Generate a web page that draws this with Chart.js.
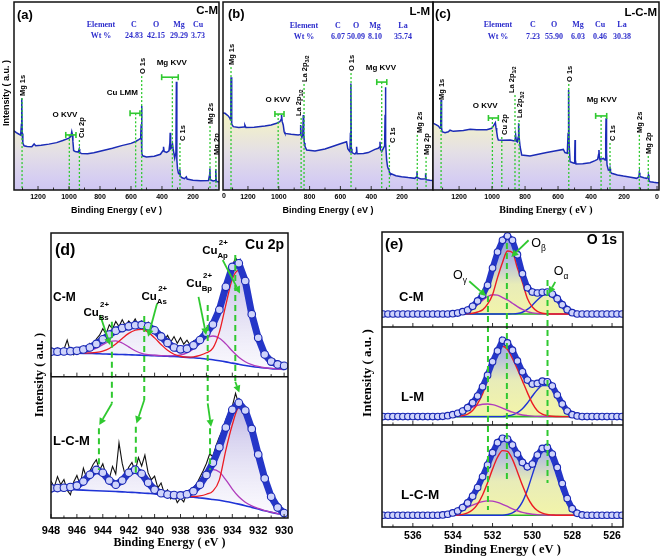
<!DOCTYPE html>
<html>
<head>
<meta charset="utf-8">
<title>XPS spectra</title>
<script src="https://cdn.jsdelivr.net/npm/chart.js@4.4.1/dist/chart.umd.min.js"></script>
<style>
  html, body { margin: 0; padding: 0; background: #fff; }
  #fig { position: relative; width: 661px; height: 558px; overflow: hidden; background: #fff; }
  #fig canvas { position: absolute; left: 0; top: 0; }
</style>
</head>
<body>
<div id="fig">
  <canvas id="chartA" width="661" height="558"></canvas>
  <canvas id="chartB" width="661" height="558"></canvas>
  <canvas id="chartC" width="661" height="558"></canvas>
  <canvas id="chartD" width="661" height="558"></canvas>
  <canvas id="chartE" width="661" height="558"></canvas>
</div>
<script>
// survey spectra: binding energy (eV) and intensity (a.u., 0-100 of panel height)
const aEnergy = [1355,1340,1325,1312,1307,1305,1302,1298,1290,1270,1240,1225,1215,1180,1130,1080,1040,1000,988,982,978,975,970,960,940,934,931,920,880,840,780,720,660,600,570,550,541,537,534,532,529,525,500,450,410,393,390,386,370,355,349,347,344,338,332,328,318,310,307,304,300,294,289,285,281,270,255,243,238,200,150,100,93,91,88,70,56,53,50,32]
const aCounts = [31.5,30.5,29.8,29.2,35,48.8,30,25,23.5,23.2,23,24.5,23.6,23.8,24.4,25.2,26.3,27.6,28.5,31,29.5,26,21,20.5,20.2,21.8,20,19.4,19.3,19.8,21,22.2,23.6,24.8,25.8,26.8,27.3,29,35,44.7,19.5,18.2,17.6,18,19,21,23,20.5,20,20.8,25,30.5,22,22.5,24.5,22,17,20,57.6,16,11.5,9,8.5,11,7.3,6.5,6,7,5.8,5.2,4.9,5,8,11.5,5.5,4.8,5,11,4.6,4.3]

const bEnergy = [1362,1349,1328,1317,1313,1311,1310,1307,1304,1295,1260,1225,1220,1213,1160,1133,1090,1050,1014,993,985,982,978,971,965,960,920,873,862,858,855,850,844,841,838,834,830,819,765,700,657,600,560,552,544,538,535,532,529,525,506,498,495,492,450,419,376,354,345,343,340,332,322,313,310,308,305,300,294,288,285,282,279,240,203,160,117,106,103,100,78,63,50,47,44,20,0]
const bCounts = [41,40.8,39.4,38.1,37.2,45,60,38,35,33.7,33.2,33.5,34.5,33.2,33.4,33.7,34,34.6,35.5,36.3,37.5,39.9,36.5,34.6,31,30.1,29.6,29.3,29.5,34.6,29,28.4,29,39.9,30,25,23.2,21.3,20.7,21.8,23,24.6,25.7,22,21,20.4,30,56.7,22,19.9,19.1,20,23,19.3,19.4,19.9,21.6,22.2,23,25.7,21.5,20.4,22,23.5,40,54.6,25,16,12.4,11,11.5,9.5,8.9,7.6,7.1,6.6,6.2,7,9.8,6.5,5.9,5.9,6,8.9,5.5,5.2,5]

const cEnergy = [1358,1340,1325,1315,1311,1309,1306,1303,1285,1265,1255,1235,1214,1174,1133,1093,1060,1032,1002,988,980,976,972,967,962,930,891,870,861,857,853,847,842,839,836,830,820,770,720,669,620,568,558,544,539,536,533,527,503,499,497,495,491,450,406,376,360,354,352,349,346,325,315,311,309,306,303,295,287,285,282,275,240,204,160,123,110,107,104,99,80,62,55,52,49,42,20,2,-12]
const cCounts = [35.5,34.8,34,32.8,36,47.9,33,31,30.5,31,31.8,31.2,31.4,31.6,32.3,32,32.1,32,32.8,34.6,35.8,33,31,28,26.6,26.5,26.6,26.2,26.2,29.3,26,25.6,28,35.5,28,23,18.6,18.1,19,19.9,20.8,21.6,19.9,19.5,30,53.2,25,15,14.2,18,26.6,16,13.8,14,14.5,15.6,16.3,19,21.3,17,16.3,16.8,16,28,38.1,20,13.3,10.6,10.5,11.5,9.5,8.9,8,7.4,6.8,6.2,7,9.2,7,7,6.5,6.2,6.8,8,5,4.4,4.1,3.9,3.8]

// tick labels
const surveyTicks = [0, 200, 400, 600, 800, 1000, 1200]
const cuTicks = [930, 932, 934, 936, 938, 940, 942, 944, 946, 948]
const oTicks = [526, 528, 530, 532, 534, 536]

// element tables
const elemA = ['C', 'O', 'Mg', 'Cu']
const wtA = ['24.83', '42.15', '29.29', '3.73']
const elemB = ['C', 'O', 'Mg', 'La']
const wtB = ['6.07', '50.09', '8.10', '35.74']
const elemC = ['C', 'O', 'Mg', 'Cu', 'La']
const wtC = ['7.23', '55.90', '6.03', '0.46', '30.38']

// peak markers (energy, height where the guide starts)
const peaksA = [
  { t: 'Mg 1s', x: 1303, y: 48.9 }, { t: 'Cu 2p', x: 933, y: 26.6, dx: 3 }, { t: 'O 1s', x: 531, y: 60.6 },
  { t: 'C 1s', x: 284, y: 25, dx: 3 }, { t: 'Mg 2s', x: 90, y: 34 }, { t: 'Mg 2p', x: 52, y: 17.6 }
]
const augerA = [
  { t: 'O KVV', tx: 1026, ty: 39.9, x1: 1021, x2: 955, by: 29.3, dx: 998 },
  { t: 'Cu LMM', tx: 656, ty: 51.6, x1: 606, x2: 542, by: 40.8, dx: 570 },
  { t: 'Mg KVV', tx: 337, ty: 67.6, x1: 402, x2: 295, by: 60, dx: 333 }
]
const peaksB = [
  { t: 'Mg 1s', x: 1310, y: 65.4 }, { t: [['La 2p', 0], ['1/2', 1]], x: 855, y: 38.3, dx: -2 },
  { t: [['La 2p', 0], ['3/2', 1]], x: 836, y: 56.4 }, { t: 'O 1s', x: 531, y: 62.2 },
  { t: 'C 1s', x: 282, y: 23.9, dx: 4 }, { t: 'Mg 2s', x: 101, y: 29.3, dx: 3 }, { t: 'Mg 2p', x: 44, y: 17.6 }
]
const augerB = [
  { t: 'O KVV', tx: 1005, ty: 47.9, x1: 1025, x2: 966, by: 40.4, dx: 1004 },
  { t: 'Mg KVV', tx: 337, ty: 64.9, x1: 364, x2: 299, by: 57.4, dx: 332 }
]
const peaksC = [
  { t: 'Mg 1s', x: 1309, y: 46.8 }, { t: 'Cu 2p', x: 941, y: 28.2, dx: 3 },
  { t: [['La 2p', 0], ['1/2', 1]], x: 861, y: 50.5, dx: -3 }, { t: [['La 2p', 0], ['3/2', 1]], x: 836, y: 37.2 },
  { t: 'O 1s', x: 535, y: 56.4 }, { t: 'C 1s', x: 285, y: 25, dx: 3 }, { t: 'Mg 2s', x: 107, y: 29.3 }, { t: 'Mg 2p', x: 53, y: 18.1 }
]
const augerC = [
  { t: 'O KVV', tx: 1042, ty: 44.7, x1: 1022, x2: 962, by: 38.3, dx: 998 },
  { t: 'Mg KVV', tx: 335, ty: 47.9, x1: 372, x2: 305, by: 39.4, dx: 339 }
]

// Cu 2p region (d)
const cuE = [948,947.5,947,946.5,946,945.5,945,944.5,944,943.5,943,942.5,942,941.5,941,940.5,940,939.5,939,938.5,938,937.5,937,936.5,936,935.5,935,934.5,934,933.5,933,932.5,932,931.5,931,930.5,930]
const cuEf = [
  948,947.75,947.5,947.25,947,946.75,946.5,946.25,
  946,945.75,945.5,945.25,945,944.75,944.5,944.25,
  944,943.75,943.5,943.25,943,942.75,942.5,942.25,
  942,941.75,941.5,941.25,941,940.75,940.5,940.25,
  940,939.75,939.5,939.25,939,938.75,938.5,938.25,
  938,937.75,937.5,937.25,937,936.75,936.5,936.25,
  936,935.75,935.5,935.25,935,934.75,934.5,934.25,
  934,933.75,933.5,933.25,933,932.75,932.5,932.25,
  932,931.75,931.5,931.25,931,930.75,930.5,930.25,
  930]
const cuEnvCM = [17.4,17.4,17.5,17.7,18,18.9,20.3,22.8,26,29.3,32,33.8,35,35.8,36,35,32.3,28,23.5,20.3,19,19.5,21.8,25.5,30.5,36.3,46.6,62.5,76.4,78.9,66.6,43.5,27,15.5,10.5,8.5,7.5]
const cuRawCM = [
  18.2,15.4,19.8,16.1,18.9,25.5,17.3,15.2,
  19.6,16.8,21.3,18.5,23.1,20.4,26.2,28.9,
  33.4,29.7,36.1,33.2,38.4,34.9,39.6,35.3,
  38.8,36.2,40.1,35.4,38.7,34.1,37.9,31.6,
  34.8,28.2,29.6,25.3,28.7,24.1,27.9,23.2,
  27.1,22.6,25.4,21.8,24.9,25.8,28.1,29.7,
  32.6,34.4,38.2,41.5,47.9,54.3,62.8,70.1,
  77.3,82.6,79.4,74.2,67.1,55.9,44.2,36.7,
  28.3,21.4,16.8,12.5,9.8,12.1,6.9,9.9,
  7.2]
const cuRedCM = [null,null,null,null,null,16.3,16.5,16.9,17.8,19.6,22.7,26.6,30.1,32.3,33,31,27,22.4,18.3,15.6,14.2,13.6,13.8,14.8,16.6,19.8,31,50,68,74,64,41,24,13,9,7,6.2]
const cuMagCM = [null,null,null,null,16.5,17,18,19.8,22.3,24.3,24.9,23.4,20.7,18,16.2,15.3,14.9,14.6,14.5,14.6,15.1,16.5,19.2,23.2,27,28.3,26.7,22.8,17.8,13.5,10.4,8.4,7.1,6.2,5.7,5.3,5.1]
const cuBgCM = [16.7,16.6,16.5,16.4,16.3,16.2,16.1,16,15.8,15.7,15.5,15.4,15.2,15.1,14.9,14.7,14.6,14.4,14.2,14,13.7,13.4,13.1,12.8,12.3,11.8,11.1,10.3,9.4,8.6,7.8,7.1,6.5,6,5.6,5.3,5]

const cuEnvLCM = [21,21.2,21.4,21.9,22.9,25.8,30.6,34,32,26.5,23.6,26.5,32,34.2,31.3,25,20,17.5,16.6,16.2,16,16.8,19,23.5,30.5,39,50,64,76.5,81.5,76,63,45,28,15,7.5,3.5]
const cuRawLCM = [
  26.1,21.8,29.3,23.6,27.2,19.7,16.4,25.5,
  30.1,23.4,35.2,28.3,33.1,37.8,41.2,33.7,
  38.3,30.4,27.8,36.5,31.1,53.2,38.6,29.5,
  35.9,39.3,33.2,42.7,36.8,44.5,31.9,27.1,
  29.7,21.3,24.8,17.2,19.9,13.5,16.8,10.9,
  14.1,11.4,18.2,15.3,21.5,24.3,28.8,33.4,
  38.6,45.3,43.5,51.4,57.3,62.2,69.7,74.6,
  79.1,88.2,80.4,78.2,73.5,68.3,58.8,52.5,
  43.2,35.5,24.9,20.4,12.7,9.2,6.2,8.7,
  3.4]
const cuRedLCM = [null,null,null,null,null,null,null,null,null,null,null,null,null,null,null,null,null,null,null,null,null,15.3,15.2,15.6,16.8,19,27,48,66,78,74,60,42,26,13.5,6.5,3]
const cuMagLCM = [null,null,null,null,null,null,null,null,null,null,null,null,null,null,null,null,null,null,null,null,15.7,16.5,18.5,23,29.5,34.3,32.5,27,20.5,15,11.2,8.6,6.8,5.3,4.1,3.1,2.3]
const cuBgLCM = [20.5,20.4,20.2,20.1,19.9,19.7,19.5,19.3,19.1,18.9,18.7,18.5,18.2,18,17.7,17.4,17.1,16.7,16.3,15.9,15.5,15.1,14.7,14.2,13.7,13.1,12.5,11.7,10.8,9.8,8.7,7.5,6.3,5.1,4,3,2.2]

// Cu 2p annotations: guides [eV, from, to], links/pointers [eV1, y1, eV2, y2]
const cuGuides = [[943.3, 68.9, 40.2], [944.3, 31.5, 16.8], [940.8, 70.9, 41.4], [941.45, 32, 14.5], [935.9, 74.7, 40.2], [935.72, 31.5, 16.8], [933.77, 92.3, 47.8]]
const cuLinks = [[943.3, 40.2, 944.27, 32.6], [940.8, 41.4, 941.4, 33.2], [935.9, 40.2, 935.64, 32], [933.77, 47.8, 933.46, 44]]
const cuPointers = [[944.21, 71.2, 943.44, 60.7], [939.81, 75.3, 940.5, 63.6], [936.61, 77.6, 936.02, 64.2], [934.74, 90.5, 933.41, 78.8]]
const cuLabels = [
  { s: [['Cu', 0], ['Bs', 1], ['2+', 3]], x: 945.5, y: 70.9 },
  { s: [['Cu', 0], ['As', 1], ['2+', 3]], x: 941.01, y: 76.5 },
  { s: [['Cu', 0], ['Bp', 1], ['2+', 3]], x: 937.55, y: 80.9 },
  { s: [['Cu', 0], ['Ap', 1], ['2+', 3]], x: 936.33, y: 92.6 }
]

// O 1s region (e)
const oE = [537.5,537.25,537,536.75,536.5,536.25,536,535.75,535.5,535.25,535,534.75,534.5,534.25,534,533.75,533.5,533.25,533,532.75,532.5,532.25,532,531.75,531.5,531.25,531,530.75,530.5,530.25,530,529.75,529.5,529.25,529,528.75,528.5,528.25,528,527.75,527.5,527.25,527,526.75,526.5,526.25,526,525.75,525.5]
const oFit = [534.5,534.25,534,533.75,533.5,533.25,533,532.75,532.5,532.25,532,531.75,531.5,531.25,531,530.75,530.5,530.25,530,529.75,529.5,529.25,529,528.75,528.5,528.25,528,527.75,527.5]
const oEnvCM = [13.7,13.7,13.7,13.7,13.7,13.7,13.7,13.7,13.7,13.7,13.7,13.7,
  13.7,13.7,14,14.7,16.1,17.9,21.8,27.4,33.3,43.9,62.1,78.9,91.2,95.8,91.2,76.1,56.1,41.4,36.8,35.8,36.5,36.8,34.7,29.8,23.5,18.2,15.1,13.7,13.7,
  13.7,13.7,13.7,13.7,13.7,13.7,13.7,13.7]
const oEnvLM = [8.5,8.5,8.5,8.5,8.5,8.5,8.5,8.5,8.5,8.5,8.5,8.5,
  8.8,9.5,10.5,11.9,14.2,17.6,22.7,29.5,39,50.8,64.4,75.6,86.4,83.7,76.3,65.4,54.2,45.8,41.7,42.4,44.7,44.1,39.7,30.5,21.4,14.2,10.5,9.2,8.5,
  8.5,8.5,8.5,8.5,8.5,8.5,8.5,8.5]
const oEnvLCM = [11.5,11.5,11.5,11.5,11.5,11.5,11.5,11.5,11.5,11.5,11.5,11.5,
  11.8,12.5,13.8,15.7,19,23.6,30.2,38.7,49.2,60.7,72.8,82.6,86.9,86.2,80.3,71.5,63.3,59,61.6,70.5,77,78,71.5,58.4,42.6,27.9,18,13.4,11.8,
  11.5,11.5,11.5,11.5,11.5,11.5,11.5,11.5]
const oRedCM = [13.7,13.7,13.7,13.7,13.8,14,14.5,15.8,18,24,34,52,68,80,78.5,62,47,30,21,16.5,14.5,13.9,13.7,13.7,13.7,13.7,13.7,13.7,13.7]
const oMagCM = [13.7,13.8,14,14.5,15.5,17,19.5,23.5,28,32,34,33.5,31,28.5,25,21.5,18.5,16.2,14.9,14.2,13.9,13.8,13.7,13.7,13.7,13.7,13.7,13.7,13.7]
const oBluCM = [13.7,13.7,13.7,13.7,13.7,13.7,13.7,13.7,13.7,13.7,13.7,13.7,13.7,13.7,13.8,14.2,15.5,18.5,23,28.5,33,35.8,34.5,29,22.5,17.5,14.8,14,13.7]
const oRedLM = [8.5,8.5,8.6,8.8,9.5,11.1,14.8,21.8,31.5,46.5,62.5,75.6,80.3,77,68,57,45,33,22,14.5,11,9.5,8.8,8.6,8.5,8.5,8.5,8.5,8.5]
const oMagLM = [9.1,9.7,10.7,12,13.8,15.9,18,19.9,21.1,21.4,20.7,19.2,17.2,15,13,11.4,10.2,9.5,9,8.7,8.6,8.5,8.5,8.5,8.5,8.5,8.5,8.5,8.5]
const oBluLM = [8.5,8.5,8.5,8.5,8.5,8.5,8.5,8.5,8.5,8.5,8.5,8.5,8.5,9.2,10.3,12.6,16.6,22.4,29.5,36,40.1,40.2,36.3,29.8,22.7,16.8,12.7,10.4,9.2]
const oRedLCM = [11.5,11.5,11.6,11.8,12.4,13.9,16.9,22.5,31.4,43.3,56.7,68.3,74.8,74,66.3,54,40.8,29.3,21.1,16.1,13.5,12.2,11.8,11.5,11.5,11.5,11.5,11.5,11.5]
const oMagLCM = [12.2,12.9,13.8,15.2,17,19.2,21.4,23.4,24.9,25.6,25.3,24.1,22.2,20.1,17.8,15.9,14.3,13.2,12.5,12,11.8,11.6,11.5,11.5,11.5,11.5,11.5,11.5,11.5]
const oBluLCM = [11.5,11.5,11.5,11.5,11.5,11.5,11.5,11.5,11.5,11.5,11.5,11.5,11.5,12.2,13.8,17.4,24.6,36.3,51.3,65.7,74.2,73.2,63.1,48.1,33.7,22.9,16.5,13.3,12.1]
const oBase = [13.7, 8.5, 11.5]

const oGuides = [[532.23, 78.3, 5.8], [531.28, 96.3, 14.9], [529.24, 83.7, 14.9]]
const oPointers = [[533.17, 83.3, 532.33, 78.3], [530.19, 97.2, 531.06, 91.5], [528.85, 83.1, 529.18, 79.1]]
const oLabels = [
  { s: [['O', 0], ['\u03b3', 1]], x: 533.99, y: 84.2 },
  { s: [['O', 0], ['\u03b2', 1]], x: 530.06, y: 94.9 },
  { s: [['O', 0], ['\u03b1', 1]], x: 528.93, y: 85.3 }
]

const SANS = '"Liberation Sans", Arial, sans-serif'
const SERIF = '"Liberation Serif", "Times New Roman", serif'
const GREEN = '#2fc92f'
const RED = '#ec1c24'
const MAG = '#b03cbc'
const BLUE = '#1f33d6'

function pts(xs, ys) {
  return xs.map((x, i) => ({ x: x, y: ys[i] }))
}

function line(ctx, x1, y1, x2, y2) {
  ctx.beginPath(); ctx.moveTo(x1, y1); ctx.lineTo(x2, y2); ctx.stroke()
}

// text with subscripts (1), superscripts (2) and superscripts stacked over the last subscript (3)
function rich(ctx, segs, x, y, size, fam, weight) {
  if (typeof segs === 'string') segs = [[segs, 0]]
  let cx = x, subX = x
  for (const [s, k] of segs) {
    ctx.font = weight + ' ' + (k ? size * 0.68 : size) + 'px ' + fam
    let dy = 0, px = cx
    if (k === 1) { dy = size * 0.32; subX = cx }
    if (k === 2) dy = -size * 0.45
    if (k === 3) { dy = -size * 0.8; px = subX + size * 0.12 }
    ctx.fillText(s, px, y + dy)
    if (k !== 3) cx += ctx.measureText(s).width
  }
}

function vrich(ctx, segs, x, y, size, fam) {
  ctx.save()
  ctx.translate(x, y); ctx.rotate(-Math.PI / 2)
  ctx.textAlign = 'left'; ctx.textBaseline = 'middle'
  rich(ctx, segs, 0, 0, size, fam, 'bold')
  ctx.restore()
}

function vtitle(ctx, s, x, y, font) {
  ctx.save()
  ctx.translate(x, y); ctx.rotate(-Math.PI / 2)
  ctx.font = font; ctx.fillStyle = '#000'; ctx.textAlign = 'center'; ctx.textBaseline = 'middle'
  ctx.fillText(s, 0, 0)
  ctx.restore()
}

function label(ctx, s, x, y, font, align) {
  ctx.font = font; ctx.fillStyle = '#000'; ctx.textAlign = align || 'left'; ctx.textBaseline = 'middle'
  ctx.fillText(s, x, y)
}

function arrow(ctx, x1, y1, x2, y2) {
  const ang = Math.atan2(y2 - y1, x2 - x1), h = 7, w = 3.6
  const bx = x2 - h * Math.cos(ang), by = y2 - h * Math.sin(ang)
  ctx.strokeStyle = GREEN; ctx.fillStyle = GREEN; ctx.lineWidth = 1.8; ctx.setLineDash([])
  line(ctx, x1, y1, bx, by)
  ctx.beginPath()
  ctx.moveTo(x2, y2)
  ctx.lineTo(bx + w * Math.sin(ang), by - w * Math.cos(ang))
  ctx.lineTo(bx - w * Math.sin(ang), by + w * Math.cos(ang))
  ctx.closePath(); ctx.fill()
}

// black frame, band dividers and inward ticks
function frame(chart, fracs, minor) {
  const ctx = chart.ctx, a = chart.chartArea, sx = chart.scales.x
  const H = a.bottom - a.top
  let acc = 0
  const bottoms = fracs.map(f => a.top + (acc += f) * H)
  ctx.save()
  ctx.setLineDash([]); ctx.strokeStyle = '#333'; ctx.lineWidth = 1
  for (const yb of bottoms) {
    for (let v = Math.ceil(sx.min / minor) * minor; v <= sx.max; v += minor) {
      const q = v / (2 * minor)
      const major = Math.abs(q - Math.round(q)) < 1e-6
      const x = sx.getPixelForValue(v)
      line(ctx, x, yb, x, yb - (major ? 4 : 2.5))
    }
  }
  ctx.strokeStyle = '#111'; ctx.lineWidth = 1.5
  bottoms.slice(0, -1).forEach(y => line(ctx, a.left, y, a.right, y))
  ctx.strokeRect(a.left, a.top, a.right - a.left, H)
  ctx.restore()
}

function band(top, h) {
  return { type: 'linear', display: false, min: 100 * (1 - (1 - top) / h), max: 100 * (1 + top / h) }
}

function xAxis(min, max, tickVals, tickFont, tickPad, title, titleFont, titlePad, height, hideZero) {
  return {
    type: 'linear', reverse: true, min: min, max: max,
    ticks: {
      autoSkip: false, maxRotation: 0, minRotation: 0,
      padding: tickPad, color: '#000', font: tickFont,
      callback: v => (hideZero && v === 0) ? '' : String(v)
    },
    afterBuildTicks: s => {
      s.ticks = tickVals.filter(v => v >= min && v <= max).sort((p, q) => p - q).map(v => ({ value: v }))
    },
    grid: { display: false, drawTicks: false },
    border: { display: false },
    title: { display: true, text: title, color: '#000', font: titleFont, padding: { top: 0, bottom: titlePad } },
    afterFit: s => { s.height = height }
  }
}

function surveyGrad(c) {
  const a = c.chart.chartArea
  if (!a) return 'rgba(0,0,0,0)'
  const g = c.chart.ctx.createLinearGradient(0, a.top, 0, a.bottom)
  g.addColorStop(0, '#fbfbd6')
  g.addColorStop(0.6, '#f4f4c4')
  g.addColorStop(0.8, '#e4dfe6')
  g.addColorStop(0.95, '#d4ccf2')
  g.addColorStop(1, '#cfc6f2')
  return g
}

function bandGrad(yid, stops) {
  return c => {
    const ch = c.chart
    if (!ch.chartArea) return 'rgba(0,0,0,0)'
    const s = ch.scales[yid]
    const g = ch.ctx.createLinearGradient(0, s.getPixelForValue(100), 0, s.getPixelForValue(0))
    stops.forEach(st => g.addColorStop(st[0], st[1]))
    return g
  }
}

const baseOptions = {
  responsive: false, animation: false, devicePixelRatio: 1, events: [],
  plugins: { legend: { display: false }, tooltip: { enabled: false }, filler: { drawTime: 'beforeDatasetsDraw' } }
}

function surveyDeco(cfg) {
  return function (chart) {
    const ctx = chart.ctx, a = chart.chartArea
    const X = v => chart.scales.x.getPixelForValue(v)
    const Y = v => chart.scales.y.getPixelForValue(v)
    ctx.save()
    ctx.beginPath(); ctx.rect(a.left, a.top, a.right - a.left, a.bottom - a.top); ctx.clip()
    ctx.strokeStyle = GREEN; ctx.lineWidth = 1.3; ctx.setLineDash([2, 2])
    cfg.peaks.forEach(p => line(ctx, X(p.x), Y(p.y), X(p.x), a.bottom))
    cfg.auger.forEach(k => line(ctx, X(k.dx), Y(k.by), X(k.dx), a.bottom))
    ctx.setLineDash([]); ctx.lineWidth = 1.6
    cfg.auger.forEach(k => {
      const y = Y(k.by)
      line(ctx, X(k.x1), y, X(k.x2), y)
      line(ctx, X(k.x1), y - 3, X(k.x1), y + 3)
      line(ctx, X(k.x2), y - 3, X(k.x2), y + 3)
    })
    ctx.fillStyle = '#000'
    cfg.peaks.forEach(p => vrich(ctx, p.t, X(p.x) + (p.dx === undefined ? 1 : p.dx), Y(p.y) - 2, 7.5, SANS))
    cfg.auger.forEach(k => label(ctx, k.t, X(k.tx), Y(k.ty), 'bold 8px ' + SANS, 'center'))
    label(ctx, cfg.letter[0], cfg.letter[1], cfg.letter[2], 'bold 13px ' + SANS)
    label(ctx, cfg.sample[0], cfg.sample[1], cfg.sample[2], 'bold 11.5px ' + SANS, 'right')
    ctx.fillStyle = '#2d2dcc'; ctx.textAlign = 'center'; ctx.textBaseline = 'middle'
    ctx.font = 'bold 8px ' + SERIF
    const t = cfg.table
    ctx.fillText('Element', t.xs[0], t.ys[0])
    ctx.fillText('Wt %', t.xs[0], t.ys[1])
    t.head.forEach((h, i) => ctx.fillText(h, t.xs[i + 1], t.ys[0]))
    t.vals.forEach((v, i) => ctx.fillText(v, t.xs[i + 1], t.ys[1]))
    ctx.restore()
    if (cfg.ytitle) vtitle(ctx, 'Intensity ( a.u. )', 6.5, 93, 'bold 9px ' + SANS)
    // the zero label of this axis sits just past the frame, next to panel (b)
    if (cfg.edgeZero) label(ctx, '0', X(0), a.bottom + 6.5, 'bold 7px ' + SANS, 'center')
    frame(chart, [1], 100)
  }
}

function surveyChart(id, energy, counts, lo, hi, area, titleFont, hideZero, cfg) {
  return new Chart(document.getElementById(id), {
    type: 'line',
    data: {
      datasets: [{
        data: pts(energy, counts), borderColor: '#1b2bb6', borderWidth: 1.5, pointRadius: 0,
        fill: 'start', backgroundColor: surveyGrad
      }]
    },
    options: Object.assign({}, baseOptions, {
      layout: { padding: { left: area[0], right: 661 - area[1], top: area[2], bottom: 558 - area[3] - 35 } },
      scales: {
        x: xAxis(lo, hi, surveyTicks, { family: SANS, size: 7, weight: 'bold' }, 3, 'Binding Energy ( eV )', titleFont, 9, 35, hideZero),
        y: { display: false, min: 0, max: 100 }
      }
    }),
    plugins: [{ id: 'deco', afterDatasetsDraw: surveyDeco(cfg) }]
  })
}

surveyChart('chartA', aEnergy, aCounts, 32, 1355, [14, 219, 2, 190], { family: SANS, size: 9, weight: 'bold' }, false, {
  peaks: peaksA, auger: augerA, letter: ['(a)', 17, 15], sample: ['C-M', 218, 11], ytitle: true, edgeZero: true,
  table: { head: elemA, vals: wtA, xs: [101, 134, 156, 179, 198], ys: [25, 36] }
})
surveyChart('chartB', bEnergy, bCounts, -1, 1362, [223, 433, 2, 190], { family: SANS, size: 9, weight: 'bold' }, true, {
  peaks: peaksB, auger: augerB, letter: ['(b)', 228, 14], sample: ['L-M', 430, 12],
  table: { head: elemB, vals: wtB, xs: [304, 338, 356, 375, 403], ys: [26, 37] }
})
surveyChart('chartC', cEnergy, cCounts, -12, 1358, [433, 659, 2, 190], { family: SERIF, size: 10, weight: 'bold' }, false, {
  peaks: peaksC, auger: augerC, letter: ['(c)', 435, 14], sample: ['L-C-M', 657, 13],
  table: { head: elemC, vals: wtC, xs: [498, 533, 554, 578, 600, 622], ys: [25, 37] }
})

// ---- (d) Cu 2p ----
const dFill = [[0, 'rgba(118,106,196,0.72)'], [0.45, 'rgba(186,178,228,0.55)'], [1, 'rgba(246,244,252,0.35)']]

// fitted envelope: thick blue band with open-circle markers on top
function envSet(data, yid, fill, grad, r, w) {
  return {
    data: data, yAxisID: yid, borderColor: '#2536c8', borderWidth: w,
    pointRadius: r, pointBorderWidth: 1.1, pointBorderColor: '#1a28b4', pointBackgroundColor: '#cfd4fb',
    fill: fill, backgroundColor: grad
  }
}
function compSet(data, color, yid, w) {
  return { data: data, yAxisID: yid, borderColor: color, borderWidth: w || 1.3, pointRadius: 0, fill: false, cubicInterpolationMode: 'monotone' }
}
function rawSet(data, yid) {
  return { data: data, yAxisID: yid, borderColor: '#111', borderWidth: 1.1, pointRadius: 0, fill: false }
}

new Chart(document.getElementById('chartD'), {
  type: 'line',
  data: {
    datasets: [
      envSet(pts(cuE, cuEnvCM), 'yT', 4, bandGrad('yT', dFill), 3.8, 7),
      rawSet(pts(cuEf, cuRawCM), 'yT'),
      compSet(pts(cuE, cuRedCM), RED, 'yT'),
      compSet(pts(cuE, cuMagCM), MAG, 'yT'),
      compSet(pts(cuE, cuBgCM), BLUE, 'yT', 1.6),
      envSet(pts(cuE, cuEnvLCM), 'yB', 9, bandGrad('yB', dFill), 3.8, 7),
      rawSet(pts(cuEf, cuRawLCM), 'yB'),
      compSet(pts(cuE, cuRedLCM), RED, 'yB'),
      compSet(pts(cuE, cuMagLCM), MAG, 'yB'),
      compSet(pts(cuE, cuBgLCM), BLUE, 'yB', 1.6)
    ]
  },
  options: Object.assign({}, baseOptions, {
    layout: { padding: { left: 51, right: 661 - 288, top: 233, bottom: 558 - 518 - 37 } },
    scales: {
      x: xAxis(929.7, 948, cuTicks, { family: SANS, size: 11, weight: 'bold' }, 6.5, 'Binding Energy ( eV )', { family: SERIF, size: 12, weight: 'bold' }, 5, 37, false),
      yT: band(0, 0.504),
      yB: band(0.504, 0.496),
      yp: { type: 'linear', display: false, min: 0, max: 100 }
    }
  }),
  plugins: [{
    id: 'decoD',
    afterDatasetsDraw(chart) {
      const ctx = chart.ctx
      const X = v => chart.scales.x.getPixelForValue(v)
      const P = v => chart.scales.yp.getPixelForValue(v)
      ctx.save()
      ctx.strokeStyle = GREEN; ctx.lineWidth = 2; ctx.setLineDash([6, 4])
      cuGuides.forEach(g => line(ctx, X(g[0]), P(g[1]), X(g[0]), P(g[2])))
      cuLinks.forEach(k => arrow(ctx, X(k[0]), P(k[1]), X(k[2]), P(k[3])))
      cuPointers.forEach(k => arrow(ctx, X(k[0]), P(k[1]), X(k[2]), P(k[3])))
      ctx.fillStyle = '#000'; ctx.textAlign = 'left'; ctx.textBaseline = 'alphabetic'
      cuLabels.forEach(l => rich(ctx, l.s, X(l.x), P(l.y), 11.5, SANS, 'bold'))
      label(ctx, '(d)', 55, 251, 'bold 16px ' + SANS)
      label(ctx, 'Cu 2p', 284, 245, 'bold 14px ' + SANS, 'right')
      label(ctx, 'C-M', 53, 298, 'bold 12px ' + SANS)
      label(ctx, 'L-C-M', 53, 441, 'bold 13px ' + SANS)
      vtitle(ctx, 'Intensity ( a.u. )', 40, 375, 'bold 12.5px ' + SERIF)
      ctx.restore()
      frame(chart, [0.504, 0.496], 1)
    }
  }]
})

// ---- (e) O 1s ----
const eFill = [[0, 'rgb(136,146,214)'], [0.3, 'rgb(178,188,222)'], [0.55, 'rgb(232,236,184)'], [1, 'rgb(246,247,164)']]
const eBands = [[0, 0.322], [0.322, 0.332], [0.654, 0.346]]
const oEnv = [oEnvCM, oEnvLM, oEnvLCM]
const oRed = [oRedCM, oRedLM, oRedLCM]
const oMag = [oMagCM, oMagLM, oMagLCM]
const oBlu = [oBluCM, oBluLM, oBluLCM]

const eSets = []
const eScales = {
  x: xAxis(525.45, 537.55, oTicks, { family: SANS, size: 10.5, weight: 'bold' }, 3, 'Binding Energy ( eV )', { family: SERIF, size: 12.5, weight: 'bold' }, 0, 30, false),
  yp: { type: 'linear', display: false, min: 0, max: 100 }
}
for (let k = 0; k < 3; k++) {
  const yid = 'yo' + k
  eScales[yid] = band(eBands[k][0], eBands[k][1])
  eSets.push(envSet(pts(oE, oEnv[k]), yid, { value: oBase[k] }, bandGrad(yid, eFill), 3.3, 6))
  eSets.push(compSet(pts(oFit, oRed[k]), RED, yid, 1.4))
  eSets.push(compSet(pts(oFit, oMag[k]), MAG, yid, 1.4))
  eSets.push(compSet(pts(oFit, oBlu[k]), BLUE, yid, 1.4))
  eSets.push(compSet(pts([oFit[0], oFit[oFit.length - 1]], [oBase[k], oBase[k]]), '#2ab52a', yid, 1.6))
}

new Chart(document.getElementById('chartE'), {
  type: 'line',
  data: { datasets: eSets },
  options: Object.assign({}, baseOptions, {
    layout: { padding: { left: 382, right: 661 - 623, top: 232, bottom: 558 - 527 - 30 } },
    scales: eScales
  }),
  plugins: [{
    id: 'decoE',
    afterDatasetsDraw(chart) {
      const ctx = chart.ctx
      const X = v => chart.scales.x.getPixelForValue(v)
      const P = v => chart.scales.yp.getPixelForValue(v)
      ctx.save()
      ctx.strokeStyle = GREEN; ctx.lineWidth = 2; ctx.setLineDash([6, 4])
      oGuides.forEach(g => line(ctx, X(g[0]), P(g[1]), X(g[0]), P(g[2])))
      oPointers.forEach(k => arrow(ctx, X(k[0]), P(k[1]), X(k[2]), P(k[3])))
      ctx.fillStyle = '#000'; ctx.textAlign = 'left'; ctx.textBaseline = 'alphabetic'
      oLabels.forEach(l => rich(ctx, l.s, X(l.x), P(l.y), 12.5, SANS, 'normal'))
      label(ctx, '(e)', 385, 245, 'bold 15px ' + SANS)
      label(ctx, 'O 1s', 617, 240, 'bold 14px ' + SANS, 'right')
      label(ctx, 'C-M', 399, 297, 'bold 13px ' + SANS)
      label(ctx, 'L-M', 401, 397, 'bold 13px ' + SANS)
      label(ctx, 'L-C-M', 401, 495, 'bold 13.5px ' + SANS)
      vtitle(ctx, 'Intensity ( a.u. )', 368, 373, 'bold 13px ' + SERIF)
      ctx.restore()
      frame(chart, [0.322, 0.332, 0.346], 1)
    }
  }]
})
</script>
</body>
</html>
